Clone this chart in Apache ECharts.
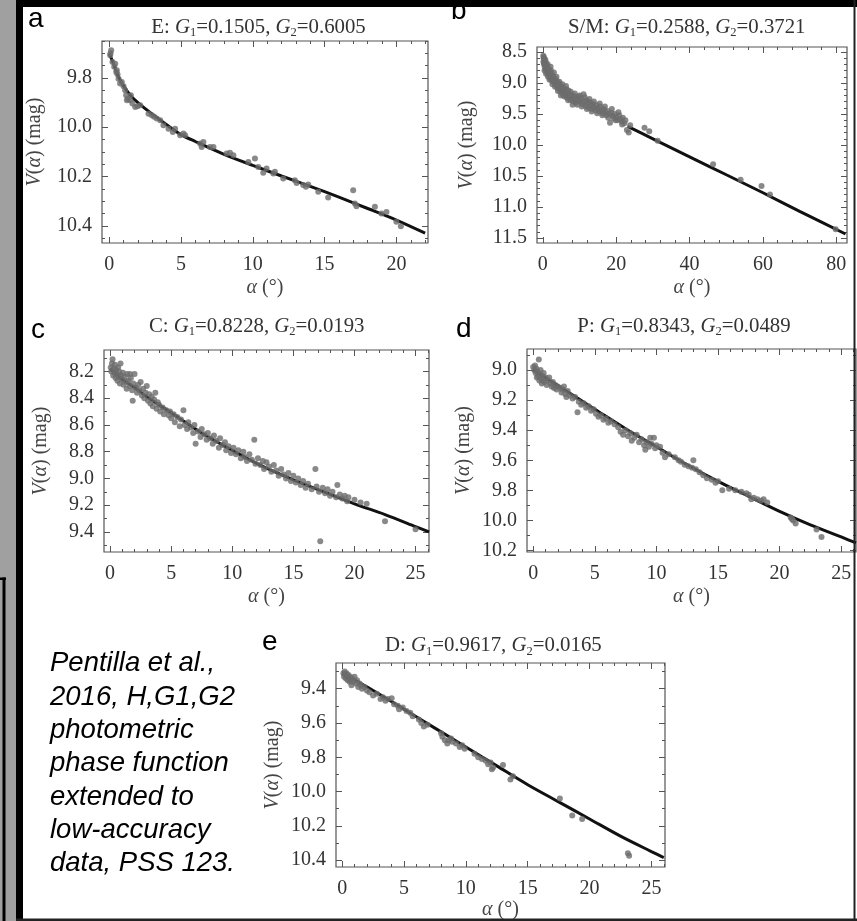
<!DOCTYPE html>
<html><head><meta charset="utf-8">
<script src="https://cdn.jsdelivr.net/npm/echarts@6/dist/echarts.min.js"></script>
<style>html,body{margin:0;padding:0;background:#fff}#c{width:857px;height:921px}</style>
</head><body><div id="c"></div>
<script>
// ---------------- DATA ----------------
const titleA = ['E', '0.1505', '0.6005'];
const titleB = ['S/M', '0.2588', '0.3721'];
const titleC = ['C', '0.8228', '0.0193'];
const titleD = ['P', '0.8343', '0.0489'];
const titleE = ['D', '0.9617', '0.0165'];

const xTicksA = [0, 5, 10, 15, 20];
const yTicksA = [9.8, 10.0, 10.2, 10.4];
const xTicksB = [0, 20, 40, 60, 80];
const yTicksB = [8.5, 9.0, 9.5, 10.0, 10.5, 11.0, 11.5];
const xTicksC = [0, 5, 10, 15, 20, 25];
const yTicksC = [8.2, 8.4, 8.6, 8.8, 9.0, 9.2, 9.4];
const xTicksD = [0, 5, 10, 15, 20, 25];
const yTicksD = [9.0, 9.2, 9.4, 9.6, 9.8, 10.0, 10.2];
const xTicksE = [0, 5, 10, 15, 20, 25];
const yTicksE = [9.4, 9.6, 9.8, 10.0, 10.2, 10.4];

const curveA = [[0,9.70],[0.3,9.742],[0.6,9.79],[1.0,9.832],[1.5,9.872],[2.0,9.9],[3.0,9.947],[4.0,9.99],[5.0,10.03],[6.0,10.058],[8.0,10.11],[10.0,10.155],[12.0,10.198],[14.0,10.24],[16.0,10.284],[18.0,10.33],[20.0,10.377],[22.0,10.43]];
const ptsA = [[0.09,9.70],[0.14,9.688],[0.07,9.708],[0.23,9.735],[0.35,9.755],[0.53,9.769],[0.58,9.785],[0.42,9.742],[0.49,9.776],[0.65,9.803],[0.76,9.823],[0.88,9.816],[1.0,9.834],[1.11,9.85],[1.18,9.87],[1.3,9.884],[1.46,9.891],[1.62,9.904],[1.81,9.918],[1.97,9.915],[2.16,9.911],[1.23,9.891],[1.51,9.87],[2.74,9.945],[2.97,9.951],[3.13,9.958],[3.31,9.965],[3.55,9.972],[3.78,9.992],[4.13,10.006],[4.43,10.019],[4.59,10.006],[4.94,10.033],[5.17,10.026],[5.29,10.033],[6.33,10.066],[6.44,10.08],[6.56,10.06],[7.02,10.08],[7.26,10.08],[8.18,10.107],[8.41,10.104],[8.65,10.114],[9.69,10.141],[10.15,10.127],[10.38,10.161],[10.73,10.185],[10.96,10.168],[11.43,10.188],[11.54,10.181],[12.12,10.208],[12.93,10.215],[13.05,10.226],[13.51,10.235],[13.7,10.242],[13.86,10.233],[14.56,10.262],[15.25,10.285],[16.99,10.256],[17.11,10.31],[17.22,10.321],[18.5,10.323],[18.96,10.35],[19.31,10.344],[20.0,10.384],[20.31,10.402]];

const curveB = [[23.1,9.70],[30,9.9],[40,10.19],[50,10.48],[60,10.77],[70,11.07],[82.5,11.435]];
const ptsB = [[0.1,8.56],[0.2,8.6],[0.3,8.65],[0.3,8.7],[0.4,8.62],[0.5,8.68],[0.5,8.74],[0.6,8.7],[0.7,8.78],[0.8,8.66],[0.9,8.73],[1.0,8.8],[1.1,8.76],[1.2,8.84],[1.3,8.7],[1.5,8.82],[1.6,8.88],[1.7,8.78],[1.9,8.86],[2.0,8.92],
[2.2,8.8],[2.3,8.95],[2.5,8.86],[2.7,8.98],[2.8,8.9],[3.0,8.83],[3.2,9.0],[3.4,8.93],[3.6,9.04],[3.8,8.97],[4.0,9.08],[4.2,9.0],[4.4,9.1],[4.6,9.03],[4.8,9.14],[5.0,9.06],[5.2,9.12],[5.4,9.18],
[5.7,9.09],[6.0,9.15],[6.2,9.2],[6.4,9.1],[6.6,9.24],[6.8,9.17],[7.0,9.12],[7.3,9.22],[7.5,9.27],[7.8,9.19],[8.0,9.25],[8.3,9.3],[8.5,9.21],[8.8,9.27],[9.0,9.32],[9.3,9.24],[9.6,9.29],[9.9,9.22],
[10.2,9.3],[10.5,9.26],[10.8,9.34],[11.1,9.18],[11.3,9.3],[11.6,9.37],[11.9,9.28],[12.2,9.33],[12.5,9.4],[12.8,9.31],[13.1,9.36],[13.4,9.42],[13.7,9.34],[14.0,9.39],[14.3,9.44],[14.6,9.36],
[15.0,9.41],[15.3,9.46],[15.6,9.38],[16.0,9.44],[16.3,9.49],[16.6,9.42],[17.0,9.47],[17.3,9.52],[17.6,9.45],[18.0,9.5],[18.3,9.64],[18.6,9.48],[19.0,9.53],[19.3,9.57],[19.6,9.5],[20.0,9.55],
[20.4,9.6],[20.8,9.52],[21.2,9.58],[21.5,9.62],[21.8,9.56],[22.2,9.65],[22.5,9.6],[22.9,9.76],[23.4,9.8],[23.8,9.68],
[0.15,8.66],[0.25,8.58],[0.45,8.8],[0.65,8.62],[0.85,8.85],[1.05,8.72],[1.4,8.9],[1.8,8.95],[2.1,8.74],[2.6,9.02],[2.9,8.96],[3.3,9.06],[3.7,8.9],[4.1,9.13],[4.5,8.98],[4.9,9.2],[5.3,9.02],[5.9,9.22],[6.3,9.05],[6.9,9.28],[7.6,9.14],[8.1,9.35],[8.7,9.17],[9.4,9.35],[10.0,9.2],[10.6,9.38],[11.4,9.23],[12.0,9.42],[12.7,9.26],[13.3,9.46],[13.9,9.3],[14.8,9.49],[15.5,9.33],[16.2,9.52],[16.9,9.38],[17.8,9.56],[18.8,9.42],[19.8,9.6],[20.6,9.47],[21.6,9.67],
[27.7,9.72],[29.0,9.78],[31.3,9.93],[46.4,10.31],[53.9,10.56],[59.6,10.66],[61.9,10.8],[79.8,11.36]];

const curveC = [[0,8.18],[1,8.26],[2,8.32],[3,8.39],[5,8.51],[7.5,8.66],[10,8.79],[12.5,8.91],[15,9.01],[17.5,9.10],[20,9.19],[22.5,9.27],[25,9.36],[26.1,9.40]];
const ptsC = [[0.05,8.17],[0.1,8.2],[0.15,8.14],[0.2,8.11],[0.25,8.23],[0.3,8.18],[0.35,8.21],[0.4,8.15],[0.45,8.25],[0.5,8.19],[0.55,8.22],[0.6,8.27],[0.65,8.17],[0.7,8.24],[0.75,8.2],[0.8,8.29],[0.85,8.14],[0.9,8.23],[1.0,8.26],[1.05,8.21],[1.1,8.3],[1.2,8.24],[1.3,8.28],[1.35,8.33],[1.4,8.22],[1.5,8.27],[1.6,8.31],[1.64,8.22],[1.7,8.25],[1.8,8.34],[1.85,8.42],[1.9,8.29],[2.0,8.22],[2.1,8.32],[2.2,8.36],[2.3,8.3],[2.4,8.34],[2.5,8.28],[2.6,8.38],[2.7,8.33],[2.8,8.4],[2.9,8.36],[3.0,8.31],[3.1,8.42],[3.2,8.37],[3.3,8.44],[3.4,8.39],[3.5,8.46],[3.6,8.41],[3.7,8.36],[3.8,8.48],[3.9,8.43],[4.0,8.45],[4.1,8.5],[4.3,8.47],[4.4,8.52],[4.6,8.49],[4.8,8.53],[4.9,8.5],[5.0,8.55],[5.2,8.52],[5.3,8.58],[5.5,8.54],[5.7,8.61],[5.8,8.56],[6.0,8.49],[6.1,8.6],[6.3,8.63],[6.4,8.58],[6.6,8.62],[6.8,8.66],[6.9,8.6],[7.0,8.74],[7.2,8.65],[7.4,8.69],[7.5,8.63],[7.7,8.67],[7.9,8.71],[8.0,8.66],[8.2,8.7],[8.4,8.74],[8.5,8.68],[8.7,8.72],[8.9,8.77],[9.0,8.7],[9.2,8.75],[9.4,8.73],[9.5,8.79],[9.7,8.76],[9.9,8.81],[10.1,8.77],[10.3,8.82],[10.5,8.79],[10.7,8.85],[10.9,8.8],[11.0,8.84],[11.2,8.87],[11.4,8.82],[11.6,8.86],[11.8,8.71],[11.9,8.89],[12.1,8.85],[12.3,8.9],[12.5,8.87],[12.6,8.93],[12.8,8.88],[13.0,8.91],[13.2,8.95],[13.4,8.9],[13.6,8.94],[13.8,8.98],[14.0,8.93],[14.2,8.97],[14.4,9.0],[14.6,8.96],[14.8,9.02],[15.0,8.98],[15.2,9.03],[15.4,9.0],[15.6,9.05],[15.8,9.02],[16.0,9.07],[16.2,9.04],[16.5,9.08],[16.8,8.93],[16.9,9.06],[17.1,9.1],[17.2,9.47],[17.4,9.07],[17.6,9.11],[17.8,9.08],[18.0,9.13],[18.2,9.1],[18.5,9.14],[18.6,9.05],[18.8,9.12],[19.0,9.15],[19.2,9.13],[19.4,9.17],[19.5,9.14],[20.0,9.16],[20.5,9.18],[21.0,9.19],[22.5,9.32],[25.0,9.38]];

const curveD = [[0,9.0],[2.5,9.13],[5,9.26],[7.5,9.39],[10,9.51],[12.5,9.63],[15,9.74],[17.5,9.84],[20,9.94],[22.5,10.03],[25,10.11],[26.2,10.15]];
const ptsD = [[0.0,8.98],[0.1,9.0],[0.15,8.97],[0.2,9.02],[0.25,8.99],[0.3,9.05],[0.35,9.01],[0.4,9.04],[0.46,8.93],[0.5,9.07],[0.55,9.03],[0.6,9.0],[0.65,9.06],[0.7,9.09],[0.75,9.04],[0.8,9.07],[0.85,9.02],[0.9,9.08],[1.0,9.05],[1.1,9.1],[1.2,9.07],[1.3,9.05],[1.4,9.09],[1.5,9.11],[1.6,9.08],[1.7,9.12],[1.8,9.1],[1.9,9.13],[2.0,9.11],[2.2,9.12],[2.3,9.15],[2.4,9.13],[2.5,9.11],[2.6,9.16],[2.7,9.18],[2.8,9.14],[3.0,9.17],[3.2,9.19],[3.4,9.18],[3.6,9.28],[3.7,9.21],[3.9,9.23],[4.1,9.22],[4.3,9.25],[4.5,9.24],[4.7,9.27],[4.9,9.26],[5.1,9.29],[5.3,9.31],[5.5,9.3],[5.7,9.33],[5.9,9.32],[6.1,9.35],[6.3,9.34],[6.6,9.36],[6.9,9.38],[7.1,9.41],[7.3,9.43],[7.5,9.4],[7.7,9.44],[7.9,9.42],[8.0,9.47],[8.2,9.45],[8.4,9.43],[8.6,9.48],[8.8,9.46],[9.0,9.5],[9.1,9.53],[9.2,9.48],[9.4,9.51],[9.5,9.45],[9.6,9.49],[9.8,9.45],[9.9,9.52],[10.0,9.5],[10.3,9.51],[10.5,9.55],[10.7,9.58],[11.0,9.56],[11.5,9.58],[11.8,9.6],[12.0,9.61],[12.3,9.63],[12.6,9.64],[12.9,9.65],[13.0,9.6],[13.2,9.66],[13.5,9.68],[13.8,9.7],[14.1,9.72],[14.5,9.73],[14.8,9.75],[15.0,9.74],[15.35,9.8],[15.9,9.79],[16.4,9.8],[16.9,9.81],[17.3,9.82],[17.5,9.83],[17.7,9.86],[17.9,9.85],[18.2,9.86],[18.5,9.87],[18.7,9.86],[19.0,9.88],[20.9,9.98],[21.0,9.99],[21.1,10.0],[21.3,10.02],[23.0,10.06],[23.4,10.11]];

const curveE = [[0,9.31],[2.5,9.41],[5,9.52],[7.5,9.63],[10,9.74],[12.5,9.85],[15,9.96],[17.5,10.06],[20,10.16],[22.5,10.26],[25,10.35],[26,10.385]];
const ptsE = [[0.1,9.31],[0.15,9.33],[0.2,9.3],[0.25,9.32],[0.3,9.34],[0.35,9.31],[0.4,9.33],[0.45,9.35],[0.5,9.32],[0.55,9.34],[0.6,9.36],[0.65,9.33],[0.7,9.35],[0.75,9.38],[0.8,9.34],[0.9,9.36],[1.0,9.33],[1.1,9.37],[1.2,9.35],[1.3,9.39],[1.4,9.37],[1.5,9.38],[1.6,9.4],[1.8,9.39],[2.0,9.41],[2.2,9.42],[2.5,9.44],[2.8,9.43],[3.1,9.46],[3.3,9.45],[3.5,9.47],[3.7,9.46],[4.0,9.455],[4.2,9.49],[4.5,9.5],[4.6,9.52],[4.9,9.51],[5.2,9.53],[5.5,9.54],[5.7,9.56],[6.2,9.58],[6.4,9.6],[6.6,9.62],[6.9,9.61],[8.0,9.66],[8.1,9.68],[8.3,9.7],[8.5,9.72],[8.6,9.7],[8.8,9.69],[8.9,9.71],[9.2,9.72],[9.5,9.74],[9.7,9.73],[9.9,9.75],[10.7,9.78],[11.0,9.8],[11.3,9.81],[11.6,9.82],[11.8,9.84],[12.0,9.83],[12.1,9.87],[12.2,9.86],[13.0,9.845],[13.6,9.93],[13.8,9.91],[17.6,10.04],[18.6,10.14],[19.4,10.16],[23.1,10.36],[23.2,10.375]];

const noteLines = ['Pentilla et al.,', '2016, H,G1,G2', 'photometric', 'phase function', 'extended to', 'low-accuracy', 'data, PSS 123.'];

// ---------------- LAYOUT / STYLE ----------------
const SERIF = '"Liberation Serif", "Times New Roman", serif';
const SANS = '"Liberation Sans", Arial, sans-serif';
const TXT = '#333';
const panels = [
  {letter:'a', pts:ptsA, curve:curveA, xt:xTicksA, yt:yTicksA, title:titleA,
   grid:{left:102, top:41, width:326, height:202}, xr:[-0.5,22.2], yr:[9.65,10.47], xMinor:1, yMinor:0.05,
   yGap:57, xGap:35, titlePos:[258.5,27.5], letterPos:[28,19.2]},
  {letter:'b', pts:ptsB, curve:curveB, xt:xTicksB, yt:yTicksB, title:titleB,
   grid:{left:537, top:47, width:310, height:196}, xr:[-1.6,82.9], yr:[8.42,11.58], xMinor:4, yMinor:0.1,
   yGap:60, xGap:35, titlePos:[686.7,27.5], letterPos:[451,11.5]},
  {letter:'c', pts:ptsC, curve:curveC, xt:xTicksC, yt:yTicksC, title:titleC,
   grid:{left:104, top:350, width:325, height:202}, xr:[-0.5,26.1], yr:[8.04,9.55], xMinor:1, yMinor:0.1,
   yGap:53, xGap:35, titlePos:[256.7,326.5], letterPos:[31,330.5]},
  {letter:'d', pts:ptsD, curve:curveD, xt:xTicksD, yt:yTicksD, title:titleD,
   grid:{left:527, top:349, width:329, height:203}, xr:[-0.5,26.2], yr:[8.86,10.21], xMinor:1, yMinor:0.1,
   yGap:53, xGap:35, titlePos:[684,326.5], letterPos:[456,329.5]},
  {letter:'e', pts:ptsE, curve:curveE, xt:xTicksE, yt:yTicksE, title:titleE,
   grid:{left:336, top:663, width:329, height:204}, xr:[-0.5,26.1], yr:[9.25,10.44], xMinor:1, yMinor:0.1,
   yGap:53, xGap:33, titlePos:[493.3,646], letterPos:[262,642.5]}
];

function stepsIn(r, step) {
  const out = [];
  const k0 = Math.ceil(r[0] / step - 1e-9), k1 = Math.floor(r[1] / step + 1e-9);
  for (let k = k0; k <= k1; k++) out.push(+(k * step).toFixed(6));
  return out;
}
const richName = {i: {fontStyle: 'italic', fontFamily: SERIF, fontSize: 20, color: '#444'}};
function mkAxis(dim, gi, p, pos, vals, len, withLabel, withName) {
  const r = dim === 'x' ? p.xr : p.yr;
  const ax = {
    type: 'value', gridIndex: gi, min: r[0], max: r[1], position: pos,
    axisLine: {show: false, onZero: false}, splitLine: {show: false},
    axisTick: {show: true, inside: true, length: len, customValues: vals, lineStyle: {color: '#555', width: 1}},
    axisLabel: withLabel ? {show: true, customValues: vals, margin: dim === 'x' ? 12 : 10,
      fontFamily: SERIF, fontSize: 20, color: TXT,
      formatter: dim === 'x' ? (v => String(Math.round(v))) : (v => (+v).toFixed(1))} : {show: false}
  };
  if (dim === 'y') ax.inverse = true;
  if (withName) {
    ax.name = dim === 'x' ? '{i|α} (°)' : '{i|V}({i|α}) (mag)';
    ax.nameLocation = 'middle';
    ax.nameGap = dim === 'x' ? p.xGap : p.yGap;
    ax.nameTextStyle = {fontFamily: SERIF, fontSize: 20, color: '#444', rich: richName};
  }
  return ax;
}

const grids = [], xAxes = [], yAxes = [], series = [], graphics = [];
panels.forEach((p, gi) => {
  grids.push(Object.assign({show: true, borderColor: '#555', borderWidth: 1.2, backgroundColor: 'transparent'}, p.grid));
  const xMaj = p.xt.filter(v => v >= p.xr[0] && v <= p.xr[1]);
  const yMaj = p.yt.filter(v => v >= p.yr[0] && v <= p.yr[1]);
  const xMin = stepsIn(p.xr, p.xMinor), yMin = stepsIn(p.yr, p.yMinor);
  xAxes.push(mkAxis('x', gi, p, 'bottom', xMaj, 6, true, true));
  xAxes.push(mkAxis('x', gi, p, 'bottom', xMin, 3, false, false));
  xAxes.push(mkAxis('x', gi, p, 'top', xMaj, 6, false, false));
  xAxes.push(mkAxis('x', gi, p, 'top', xMin, 3, false, false));
  yAxes.push(mkAxis('y', gi, p, 'left', yMaj, 6, true, true));
  yAxes.push(mkAxis('y', gi, p, 'left', yMin, 3, false, false));
  yAxes.push(mkAxis('y', gi, p, 'right', yMaj, 6, false, false));
  yAxes.push(mkAxis('y', gi, p, 'right', yMin, 3, false, false));
  series.push({type: 'line', xAxisIndex: gi * 4, yAxisIndex: gi * 4, data: p.curve, smooth: 0.3,
    symbol: 'none', lineStyle: {color: '#111', width: 3}, z: 2, clip: true});
  series.push({type: 'scatter', xAxisIndex: gi * 4, yAxisIndex: gi * 4, data: p.pts, symbol: 'circle',
    symbolSize: 6, itemStyle: {color: '#6c6c6c'}, z: 3});
  const t = p.title;
  graphics.push({type: 'text', x: p.titlePos[0], y: p.titlePos[1], z: 10, style: {
    text: '{n|' + t[0] + ': }{i|G}{s|1}{n|=' + t[1] + ', }{i|G}{s|2}{n|=' + t[2] + '}',
    align: 'center', verticalAlign: 'middle',
    rich: {
      n: {fontFamily: SERIF, fontSize: 20.8, fill: TXT, lineHeight: 24},
      i: {fontFamily: SERIF, fontSize: 20.8, fontStyle: 'italic', fill: TXT, lineHeight: 24},
      s: {fontFamily: SERIF, fontSize: 12.5, fill: TXT, lineHeight: 12, verticalAlign: 'bottom'}
    }}});
  graphics.push({type: 'text', x: p.letterPos[0], y: p.letterPos[1], z: 10, style: {
    text: p.letter, font: '28px ' + SANS, fill: '#000', align: 'left', verticalAlign: 'middle'}});
});

// frame decoration
graphics.push({type: 'rect', shape: {x: 0, y: 0, width: 16, height: 921}, style: {fill: '#a0a0a0'}, z: 20});
graphics.push({type: 'rect', shape: {x: 16, y: 0, width: 7, height: 921}, style: {fill: '#000'}, z: 20});
graphics.push({type: 'rect', shape: {x: 16, y: 0, width: 841, height: 7}, style: {fill: '#000'}, z: 20});
graphics.push({type: 'rect', shape: {x: 853.5, y: 0, width: 2, height: 921}, style: {fill: '#222'}, z: 20});
graphics.push({type: 'rect', shape: {x: 16, y: 918.5, width: 841, height: 2.5}, style: {fill: '#222'}, z: 20});
graphics.push({type: 'rect', shape: {x: 0, y: 577.5, width: 6, height: 2.5}, style: {fill: '#000'}, z: 20});
graphics.push({type: 'rect', shape: {x: 2.5, y: 577.5, width: 3, height: 344}, style: {fill: '#000'}, z: 20});
graphics.push({type: 'text', x: 50, y: 647, z: 10, style: {
  text: noteLines.join('\n'), font: 'italic 27.5px ' + SANS, fill: '#000', lineHeight: 33.3,
  align: 'left', verticalAlign: 'top'}});

const chart = echarts.init(document.getElementById('c'), null, {renderer: 'canvas'});
chart.setOption({
  animation: false,
  backgroundColor: '#fff',
  grid: grids, xAxis: xAxes, yAxis: yAxes, series: series, graphic: graphics
});
</script></body></html>
